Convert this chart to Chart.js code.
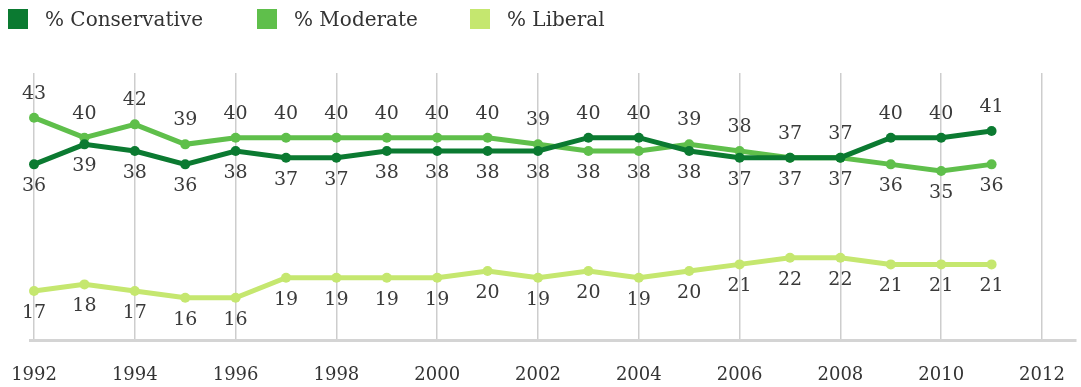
<!DOCTYPE html>
<html>
<head>
<meta charset="utf-8">
<script src="https://cdn.jsdelivr.net/npm/chart.js@4.4.1/dist/chart.umd.min.js"></script>
<style>
  html, body { margin: 0; padding: 0; background: #fff; }
  #wrap { position: relative; width: 1081px; height: 387px; }
  #ideologyChart { position: absolute; left: 0; top: 0; }
  #legend { position: absolute; left: 0; top: 7px; width: 1081px; height: 22px; font-family: "DejaVu Serif", serif; font-size: 20px; color: #333; }
  .item { position: absolute; top: 0; display: flex; align-items: center; white-space: nowrap; }
  .swatch { width: 20px; height: 20px; margin-right: 17px; }
</style>
</head>
<body>
<div id="wrap">
  <canvas id="ideologyChart" width="1081" height="387"></canvas>
  <div id="legend"></div>
</div>
<script>
// Ideology self-identification by year
const years = [1992, 1993, 1994, 1995, 1996, 1997, 1998, 1999, 2000, 2001, 2002, 2003, 2004, 2005, 2006, 2007, 2008, 2009, 2010, 2011];
const conservative = [36, 39, 38, 36, 38, 37, 37, 38, 38, 38, 38, 40, 40, 38, 37, 37, 37, 40, 40, 41];
const moderate = [43, 40, 42, 39, 40, 40, 40, 40, 40, 40, 39, 38, 38, 39, 38, 37, 37, 36, 35, 36];
const liberal = [17, 18, 17, 16, 16, 19, 19, 19, 19, 20, 19, 20, 19, 20, 21, 22, 22, 21, 21, 21];
const tickYears = [1992, 1994, 1996, 1998, 2000, 2002, 2004, 2006, 2008, 2010, 2012];

const seriesNames = ['% Conservative', '% Moderate', '% Liberal'];
const seriesValues = [conservative, moderate, liberal];
const seriesColors = ['#0b7a31', '#5fbf4b', '#c5e76f'];
const legendLeft = [8, 257, 470];

const FONT = '"DejaVu Serif", serif';

// legend row
const legend = document.getElementById('legend');
seriesNames.forEach((name, i) => {
  const item = document.createElement('div');
  item.className = 'item';
  item.style.left = legendLeft[i] + 'px';
  item.innerHTML = `<span class="swatch" style="background:${seriesColors[i]}"></span><span>${name}</span>`;
  legend.appendChild(item);
});

// higher of conservative/moderate gets its label above, the other below; liberal always below
function labelAbove(d, i) {
  if (d === 2) return false;
  if (d === 0) return conservative[i] > moderate[i];
  return moderate[i] >= conservative[i];
}

const valueLabels = {
  id: 'valueLabels',
  afterDatasetsDraw(chart) {
    const ctx = chart.ctx;
    ctx.save();
    ctx.font = '19px ' + FONT;
    ctx.fillStyle = '#3a3a3a';
    ctx.textAlign = 'center';
    ctx.textBaseline = 'middle';
    chart.data.datasets.forEach((ds, d) => {
      chart.getDatasetMeta(d).data.forEach((pt, i) => {
        const dy = labelAbove(d, i) ? -24 : 22;
        ctx.fillText(String(seriesValues[d][i]), pt.x, pt.y + dy);
      });
    });
    ctx.restore();
  }
};

const ctx = document.getElementById('ideologyChart').getContext('2d');
new Chart(ctx, {
  type: 'line',
  data: {
    datasets: seriesNames.map((name, d) => ({
      label: name,
      data: years.map((y, i) => ({ x: y, y: seriesValues[d][i] })),
      borderColor: seriesColors[d],
      backgroundColor: seriesColors[d],
      borderWidth: 5,
      pointRadius: 5,
      pointBorderWidth: 0,
      tension: 0,
      fill: false,
      clip: false
    }))
  },
  options: {
    responsive: false,
    animation: false,
    layout: { padding: { top: 73, left: 30, right: 0, bottom: 1 } },
    plugins: {
      legend: { display: false },
      tooltip: { enabled: false }
    },
    scales: {
      x: {
        type: 'linear',
        min: 1991.92,
        max: 2012.675,
        afterBuildTicks: (scale) => {
          scale.ticks = tickYears.map(v => ({ value: v }));
        },
        ticks: {
          color: '#333',
          font: { family: FONT, size: 18 },
          padding: 0,
          maxRotation: 0,
          autoSkip: false,
          callback: (v) => String(v)
        },
        grid: { color: '#cdcdcd', lineWidth: 1.5, drawTicks: true, tickLength: 24, tickColor: 'rgba(0,0,0,0)' },
        border: { color: '#d4d4d4', width: 3 }
      },
      y: {
        display: false,
        min: 9.6,
        max: 49.7
      }
    }
  },
  plugins: [valueLabels]
});
</script>
</body>
</html>
